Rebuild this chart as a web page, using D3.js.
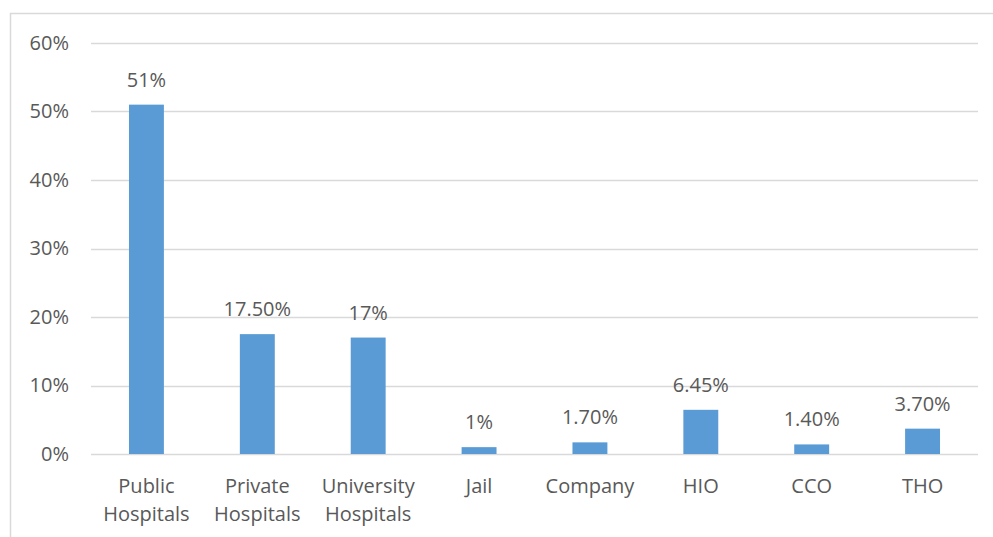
<!DOCTYPE html>
<html>
<head>
<meta charset="utf-8">
<script src="https://cdn.jsdelivr.net/npm/d3@7"></script>
<style>
  html, body { margin: 0; padding: 0; background: #fff; }
  svg { display: block; }
  text { font-family: "Open Sans", Lato, "Liberation Sans", sans-serif; fill: #595959; }
</style>
</head>
<body>
<svg id="chart" width="993" height="537"></svg>
<script>
// Institution categories (two-line labels where wrapped)
const categories = [
  ["Public", "Hospitals"],
  ["Private", "Hospitals"],
  ["University", "Hospitals"],
  ["Jail"],
  ["Company"],
  ["HIO"],
  ["CCO"],
  ["THO"]
];
// Share of each category, in percent
const values = [51, 17.5, 17, 1, 1.7, 6.45, 1.4, 3.7];
// Value labels as printed above the bars
const valueLabels = ["51%", "17.50%", "17%", "1%", "1.70%", "6.45%", "1.40%", "3.70%"];
// Y axis ticks, in percent
const yTicks = [0, 10, 20, 30, 40, 50, 60];

const svg = d3.select("#chart");
const W = 993, H = 537;
const margin = { left: 91, right: 15, top: 43, bottom: 83 };
const fontSize = "20px";

// Chart frame (left and top edges visible)
svg.append("path")
  .attr("d", `M10.5,${H} V13.5 H${W}`)
  .attr("fill", "none")
  .attr("stroke", "#d9d9d9")
  .attr("stroke-width", 1.5);

const keys = categories.map((c, i) => i);
const x = d3.scaleBand()
  .domain(keys)
  .range([margin.left, W - margin.right])
  .paddingInner(0.685)
  .paddingOuter(0.3425);

const y = d3.scaleLinear()
  .domain([0, 60])
  .range([H - margin.bottom, margin.top]);

// Gridlines
svg.append("g").attr("class", "grid")
  .selectAll("line")
  .data(yTicks)
  .join("line")
  .attr("x1", margin.left)
  .attr("x2", W - margin.right)
  .attr("y1", d => Math.round(y(d)) + 0.5)
  .attr("y2", d => Math.round(y(d)) + 0.5)
  .attr("stroke", "#d9d9d9")
  .attr("stroke-width", 1.5);

// Y axis labels
const yAxis = d3.axisLeft(y)
  .tickValues(yTicks)
  .tickFormat(d => d + "%")
  .tickSize(0)
  .tickPadding(22);
const yg = svg.append("g")
  .attr("transform", `translate(${margin.left},0)`)
  .call(yAxis);
yg.select(".domain").remove();
yg.selectAll("text")
  .style("font-size", fontSize)
  .style("font-family", null)
  .attr("fill", "#595959");
yg.attr("font-family", null);

// Bars
svg.append("g")
  .selectAll("rect")
  .data(values)
  .join("rect")
  .attr("x", (d, i) => x(i))
  .attr("width", x.bandwidth())
  .attr("y", d => y(d))
  .attr("height", d => y(0) - y(d))
  .attr("fill", "#5b9bd5");

// Value labels
svg.append("g")
  .selectAll("text")
  .data(values)
  .join("text")
  .attr("x", (d, i) => x(i) + x.bandwidth() / 2)
  .attr("y", d => y(d) - 18)
  .attr("text-anchor", "middle")
  .style("font-size", fontSize)
  .text((d, i) => valueLabels[i]);

// Category labels
const xg = svg.append("g");
categories.forEach((lines, i) => {
  const cx = x(i) + x.bandwidth() / 2;
  const t = xg.append("text")
    .attr("x", cx)
    .attr("y", y(0) + 39)
    .attr("text-anchor", "middle")
    .style("font-size", fontSize);
  lines.forEach((ln, j) => {
    t.append("tspan")
      .attr("x", cx)
      .attr("dy", j === 0 ? 0 : 28)
      .text(ln);
  });
});
</script>
</body>
</html>
